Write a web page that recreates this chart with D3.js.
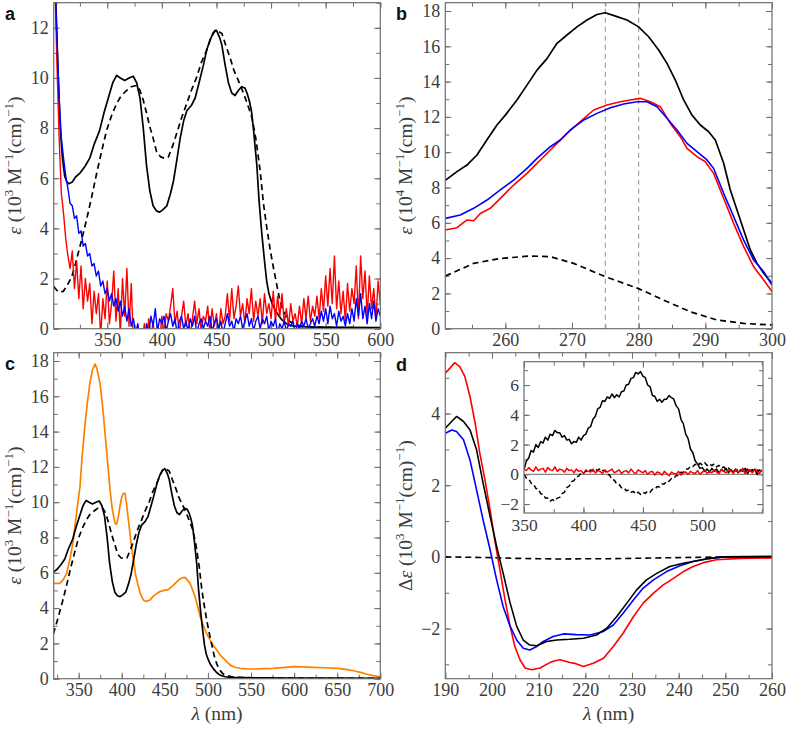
<!DOCTYPE html>
<html><head><meta charset="utf-8">
<script src="https://cdn.jsdelivr.net/npm/d3@7"></script>
<style>
body{margin:0;background:#fff}
svg text{font-family:"Liberation Serif","Times New Roman",serif}
svg text.lt{font-family:"Liberation Sans",Arial,sans-serif;font-weight:bold}
</style>
</head><body>
<script>
// ---------------- DATA ----------------
// Panel a & c : black solid (absorption), black dashed
const absSolid = [[301,14.5],[303,13.0],[305,10.2],[307,8.0],[309,6.8],[311,6.1],[313,5.85],[315,5.78],[318,5.85],[321,6.05],[325,6.2],[330,6.5],[334,6.8],[338,7.35],[343,7.9],[347,8.6],[351,9.2],[355,9.8],[358.6,10.1],[362,10.0],[366,9.9],[370,10.0],[373.8,10.07],[377,9.8],[380,9.2],[383,8.0],[386,6.5],[389,5.5],[392,4.9],[395,4.7],[398,4.65],[401,4.75],[404.6,4.9],[408,5.4],[410.7,5.9],[414,6.8],[416.8,7.6],[420,8.3],[423,8.7],[427,8.9],[430.5,9.2],[434,9.8],[438,10.5],[441,11.1],[444,11.5],[447,11.8],[450,11.9],[453,11.6],[455,11.3],[458,10.5],[461,9.8],[464,9.4],[467,9.3],[470,9.5],[473,9.65],[476,9.6],[478,9.4],[480,9.1],[482,8.7],[484,7.9],[487,6.5],[489,5.1],[491.5,3.8],[494,2.7],[496,1.9],[498,1.4],[500.6,1.05],[503,0.8],[506.7,0.54],[510,0.35],[514,0.2],[520,0.11],[526,0.08],[540,0.06],[560,0.05],[600,0.04],[650,0.03],[700,0.02]];
const absDashed = [[301,1.68],[304,1.52],[307,1.45],[310,1.5],[313,1.7],[317.5,2.07],[321,2.6],[325,3.27],[331,4.33],[336,5.3],[340.3,6.19],[345,7.1],[349.5,7.92],[354,8.5],[358.6,8.98],[363,9.3],[367.8,9.5],[372,9.65],[377,9.7],[380,9.5],[383,9.11],[386,8.6],[389,8.05],[392,7.6],[395.2,7.05],[399,6.85],[402.8,6.79],[406,6.85],[410,7.3],[413.7,7.8],[418,8.4],[423,9.0],[427,9.5],[432,10.04],[436,10.6],[441,11.1],[445,11.6],[448.8,11.9],[452,11.85],[455,11.77],[458.5,11.3],[462.5,10.8],[466,10.3],[470,9.9],[474.7,9.4],[478,9.0],[482.3,8.45],[486,7.6],[490,6.3],[493,5.0],[496,4.06],[499,3.2],[502,2.47],[505,1.8],[508,1.14],[511,0.75],[514,0.48],[517,0.3],[520,0.21],[526,0.12],[532.6,0.08],[550,0.05],[600,0.03],[650,0.02],[700,0.02]];
// Panel a : noisy red & blue, sampled every 2 nm from 302 nm
const aNoiseStart = 302, aNoiseStep = 2;
const aRed = [14,10.5,7.6,5.4,4.6,3.6,2.9,2.4,
 3.1,1.6,2.7,1.2,2.5,0.8,2.0,1.1,1.8,0.2,1.5,0.6,
 1.4,-0.3,1.2,0.4,1.9,0.2,1.0,2.3,0.3,1.6,-0.2,2.0,0.5,2.4,0.1,1.8,
 -0.6,-0.9,-0.3,-1.0,-0.5,0.2,-0.7,0.4,-0.4,0.3,-0.8,0.1,-0.5,0.5,-0.2,0.6,
 0.3,0.9,1.6,0.2,0.7,-0.2,0.5,1.1,0.1,0.6,-0.3,0.4,1.1,0.2,0.8,-0.1,0.5,0.3,
 0.9,-0.2,0.8,0.1,0.6,-0.3,0.8,0.2,0.5,1.4,0.3,1.6,0.4,0.9,1.7,
 0.5,1.0,0.2,1.2,0.6,1.6,0.3,1.1,0.5,1.2,0.2,1.4,0.6,1.0,0.4,
 1.5,0.3,1.3,0.5,1.4,0.2,0.8,0.1,1.0,0.3,0.6,0.1,0.9,0.2,1.2,0.4,1.3,0.3,0.9,0.5,
 1.3,0.4,1.6,0.7,2.1,0.9,2.4,1.0,2.9,0.8,1.9,0.6,1.5,0.3,1.8,0.7,1.6,1.0,2.5,0.4,2.9,1.2,2.3,0.5,2.1,0.8,1.6,0.4,1.9,1.0];
const aBlue = [14,11.5,9.2,7.6,6.8,6.1,5.6,5.0,4.9,4.4,4.5,3.8,3.9,3.3,3.4,2.9,3.0,2.5,2.6,2.1,
 2.3,1.7,1.9,1.4,1.6,1.1,1.4,0.9,1.2,0.7,1.1,0.5,0.9,0.3,0.8,0.1,0.4,-0.2,0.2,-0.5,
 -0.3,-0.6,0.2,-0.2,0.5,0.1,0.8,-0.1,0.4,0.2,0.5,-0.1,0.3,0.6,0.1,0.4,-0.2,0.3,0.5,0.0,
 0.3,-0.1,0.4,0.1,0.5,-0.2,0.2,0.4,0.0,0.3,0.1,0.5,-0.1,0.2,0.4,0.0,0.3,-0.2,0.2,0.6,
 0.1,0.3,-0.1,0.4,0.2,0.5,0.0,0.3,0.6,0.1,0.4,-0.1,0.3,0.5,0.0,0.4,0.2,0.5,-0.1,0.3,
 0.1,0.4,-0.2,0.2,0.0,0.3,-0.1,0.2,0.1,0.3,-0.2,0.2,0.0,0.3,0.1,0.4,0.0,0.2,0.4,0.1,
 0.5,0.2,0.7,0.3,0.8,0.2,0.9,0.4,0.6,0.1,0.7,0.3,0.5,0.1,0.6,0.2,0.8,0.3,1.2,0.5,
 1.4,0.4,0.9,0.2,1.0,0.4,1.1,0.3,0.8,0.5];
// Panel b
const bBlack = [[251,8.4],[252.75,8.9],[254.25,9.27],[255.75,9.84],[257.25,10.7],[258.75,11.54],[260,12.1],[261.75,12.96],[263.25,13.8],[264.75,14.65],[266.25,15.3],[267.75,16.17],[269.25,16.64],[270.75,17.1],[272.25,17.49],[273.75,17.8],[275,17.9],[276.75,17.68],[278.25,17.49],[280,17.1],[281.5,16.54],[283,15.79],[284.25,15.03],[285.5,14.09],[286.75,12.96],[288,12.1],[289.25,11.54],[290.5,11.16],[291.5,10.69],[292.75,9.37],[293.75,7.86],[294.75,6.72],[295.75,5.59],[296.75,4.46],[297.75,3.7],[298.75,3.14],[300,2.57]];
const bBlue = [[251,6.25],[253.25,6.44],[255.25,6.82],[257.25,7.29],[259.25,7.86],[261.25,8.42],[263.25,9.08],[264.75,9.65],[266.75,10.31],[268.25,10.69],[269.75,11.26],[271.75,11.82],[273.75,12.2],[275.75,12.52],[277.75,12.73],[279.75,12.86],[281.25,12.86],[282.75,12.58],[284.25,11.92],[285.75,11.26],[287.25,10.5],[288.75,10.03],[290.25,9.56],[291.25,9.08],[292.75,7.67],[294.25,6.35],[295.75,5.02],[297.25,3.89],[298.75,3.23],[300,2.47]];
const bRed = [[251,5.59],[252.75,5.72],[254.25,6.16],[255.25,6.12],[256.25,6.53],[257.75,6.82],[259.75,7.57],[261.25,8.14],[263.25,8.8],[265.25,9.56],[267.25,10.31],[269.25,11.07],[271.25,11.73],[273.25,12.39],[275.25,12.67],[277.25,12.86],[278.75,12.96],[280.25,13.05],[281.75,12.86],[283.25,12.58],[284.75,11.63],[286.25,10.88],[287.25,10.22],[288.75,9.75],[290,9.46],[291.25,8.8],[292.75,7.38],[294.25,5.97],[295.75,4.65],[297.25,3.51],[298.75,2.76],[300,2.1]];
const bDashed = [[251,2.98],[255.25,3.7],[259.25,3.98],[263.75,4.12],[266.75,4.08],[270.25,3.7],[275,2.95],[280,2.27],[283.75,1.62],[287.75,0.96],[291.75,0.49],[295.75,0.3],[300,0.21]];
const bMarkers = [275, 280];
// Panel c : orange
const cOrange = [[321,5.4],[328,5.4],[332,5.6],[336,5.97],[340,6.8],[343.8,7.86],[347,9.2],[351.5,10.88],[354,12.6],[357.4,14.47],[360,15.6],[363,16.73],[366,17.5],[369,17.83],[371,17.6],[374.8,16.73],[378,15.3],[380.6,13.9],[383.5,12.3],[386.4,10.69],[389,9.6],[392.2,8.8],[394,8.75],[396,9.18],[398,9.8],[400,10.31],[402,10.5],[403.8,10.5],[405.5,9.9],[407.7,8.99],[410.5,7.8],[413.5,6.72],[416,5.9],[419.3,5.21],[422,4.75],[425,4.46],[428,4.38],[432.8,4.46],[436,4.65],[440.6,4.83],[445,4.95],[450.3,5.02],[454,5.05],[458,5.21],[462,5.4],[465.8,5.59],[470,5.72],[473.5,5.74],[476,5.6],[479.3,5.4],[482,5.05],[485,4.65],[488,4.1],[491,3.51],[494,3.1],[496.7,2.76],[499.5,2.45],[502.5,2.19],[506,1.9],[510.3,1.62],[514,1.35],[518,1.15],[522,0.95],[525.8,0.77],[531,0.65],[537.4,0.59],[545,0.56],[553,0.55],[565,0.57],[576,0.59],[590,0.64],[599.3,0.68],[610,0.67],[622.5,0.64],[635,0.62],[649.7,0.59],[660,0.53],[669,0.45],[677,0.36],[684.5,0.25],[692,0.17],[700,0.11]];
// Panel d : CD
const dRed = [[190,5.13],[191,5.27],[192,5.42],[193.1,5.31],[194.2,5.03],[195.3,4.47],[196.4,3.73],[197.4,2.89],[198.5,2.15],[199.6,1.31],[200.6,0.47],[201.7,-0.36],[202.8,-1.2],[203.9,-1.94],[204.9,-2.5],[206,-2.87],[207.1,-3.1],[208.5,-3.15],[210.3,-3.1],[212.4,-2.95],[213.5,-2.9],[214.6,-2.87],[216.7,-2.95],[218,-2.98],[219.6,-3.06],[221.7,-2.97],[223.9,-2.83],[226,-2.5],[228.1,-2.13],[230.3,-1.67],[232.4,-1.29],[234.6,-1.01],[236.7,-0.78],[238.9,-0.6],[241,-0.41],[243.1,-0.27],[245.3,-0.16],[248.1,-0.08],[253.1,-0.04],[260,-0.03]];
const dBlack = [[190,3.59],[191,3.73],[192.4,3.92],[193.9,3.78],[195.3,3.54],[196.7,2.99],[198.1,2.06],[199.6,1.13],[201,0.29],[202.4,-0.46],[203.9,-1.29],[205.3,-1.94],[206.7,-2.32],[208.1,-2.46],[209.6,-2.48],[211.7,-2.36],[213.9,-2.32],[216.7,-2.3],[219.6,-2.27],[222.4,-2.18],[224.6,-1.99],[226.7,-1.67],[228.9,-1.29],[231,-0.92],[233.1,-0.64],[235.3,-0.46],[238.1,-0.27],[241,-0.18],[243.9,-0.11],[246.7,-0.04],[249.6,0],[260,0.01]];
const dBlue = [[190,3.45],[191.4,3.54],[192.4,3.5],[193.9,3.27],[195.3,2.7],[196.7,1.87],[198.1,1.03],[199.6,0.2],[201,-0.64],[202.4,-1.39],[203.9,-1.94],[205.3,-2.32],[206.7,-2.55],[208.1,-2.6],[209.6,-2.5],[211,-2.36],[213.1,-2.22],[215.3,-2.15],[218.1,-2.17],[221,-2.18],[223.9,-2.08],[226,-1.9],[228.1,-1.57],[230.3,-1.2],[232.4,-0.87],[234.6,-0.64],[237.4,-0.41],[240.3,-0.25],[243.1,-0.13],[245.9,-0.06],[249.6,0],[260,0.01]];
const dDashed = [[190,0],[195,-0.01],[200,-0.02],[205,-0.04],[210,-0.05],[215,-0.06],[220,-0.05],[225,-0.05],[230,-0.04],[235,-0.03],[240,-0.02],[245,-0.01],[250,0],[260,0]];
// Panel d inset: sampled every 2 nm from 350 nm
const insStart = 350, insStep = 2;
const insSolid = [0.3,0.9,1.1,1.6,1.5,2.0,1.8,2.2,2.1,2.5,2.3,2.7,2.6,2.95,2.8,2.8,2.5,2.6,2.3,2.35,
 2.05,2.2,2.15,2.5,2.3,2.6,2.7,3.1,3.2,3.7,3.9,4.4,4.5,4.95,4.9,5.2,5.1,5.4,5.15,5.35,
 5.2,5.55,5.6,6.0,6.05,6.45,6.5,6.85,6.75,6.9,6.6,6.5,6.0,5.9,5.3,5.25,4.9,5.05,4.85,5.05,
 5.05,5.3,5.15,5.05,4.6,4.4,3.7,3.4,2.7,2.4,1.7,1.45,0.9,0.7,0.4,0.45,0.2,0.35,0.15,0.4,
 0.2,0.35,0.1,0.3,0.2,0.4,0.1,0.3,0.15,0.35,0.1,0.3,0.2,0.4,0.05,0.3,0.15,0.35,0.0,0.3,0.2];
const insDashed = [0.0,-0.25,-0.3,-0.6,-0.65,-0.95,-1.0,-1.3,-1.35,-1.6,-1.6,-1.8,-1.7,-1.8,-1.6,-1.55,-1.3,-1.2,-0.9,-0.8,
 -0.5,-0.42,-0.18,-0.12,0.1,0.05,0.22,0.15,0.3,0.22,0.35,0.25,0.4,0.25,0.25,0.0,-0.05,-0.35,-0.4,-0.65,
 -0.68,-0.9,-0.9,-1.1,-1.05,-1.2,-1.15,-1.32,-1.2,-1.35,-1.2,-1.28,-1.12,-1.2,-1.0,-1.0,-0.82,-0.85,-0.65,-0.65,
 -0.45,-0.47,-0.28,-0.27,-0.08,-0.08,0.14,0.12,0.35,0.35,0.55,0.52,0.68,0.58,0.75,0.62,0.78,0.6,0.72,0.58,
 0.7,0.5,0.6,0.42,0.5,0.32,0.42,0.25,0.38,0.22,0.35,0.2,0.38,0.18,0.35,0.15,0.32,0.1,0.3,0.15,0.25];
const insRed = [0.35,0.25,0.45,0.3,0.2,0.5,0.25,0.35,0.4,0.15,0.45,0.3,0.25,0.5,0.2,0.35,0.3,0.15,0.4,0.25,
 0.3,0.1,0.35,0.2,0.25,0.05,0.3,0.2,0.15,0.35,0.1,0.25,0.2,0.05,0.3,0.15,0.25,0.35,0.1,0.2,
 0.3,0.05,0.2,0.25,0.1,0.35,0.15,0.05,0.3,0.2,0.1,0.25,0.0,0.15,0.2,-0.05,0.15,0.1,-0.05,0.2,
 0.05,-0.1,0.15,0.05,0.0,0.2,-0.05,0.1,0.15,0.0,0.2,0.1,0.05,0.25,0.0,0.15,0.3,0.05,0.2,0.1,
 0.3,0.15,0.05,0.35,0.2,0.1,0.3,0.25,0.05,0.35,0.15,0.2,0.4,0.05,0.25,0.3,0.1,0.35,0.2,0.05,0.3];

// Tick values
const aXTicks=[350,400,450,500,550,600], aYTicks=[0,2,4,6,8,10,12];
const bXTicks=[260,270,280,290,300], bYTicks=[0,2,4,6,8,10,12,14,16,18];
const cXTicks=[350,400,450,500,550,600,650,700], cYTicks=[0,2,4,6,8,10,12,14,16,18];
const dXTicks=[190,200,210,220,230,240,250,260], dYTicks=[-2,0,2,4];
const iXTicks=[350,400,450,500], iYTicks=[-2,0,2,4,6];

// ---------------- DRAW ----------------
const W=787,H=730;
const svg=d3.select("body").append("svg").attr("width",W).attr("height",H);
const defs=svg.append("defs");
const FRAME="#6e6e6e", TXT="#3c3c3c";
const RED="#ff0000", BLUE="#0000ff", ORANGE="#ff8000", BLACK="#000";

function range(a,b,s){const r=[];for(let v=a;v<=b+1e-9;v+=s)r.push(+v.toFixed(6));return r;}

function panel(c){
  const x=d3.scaleLinear().domain(c.xdom).range([c.l,c.r]);
  const y=d3.scaleLinear().domain(c.ydom).range([c.b,c.t]);
  const g=svg.append("g");
  if(c.bg) g.append("rect").attr("x",c.l).attr("y",c.t).attr("width",c.r-c.l).attr("height",c.b-c.t).attr("fill","#fff");
  defs.append("clipPath").attr("id","clip-"+c.name).append("rect")
    .attr("x",c.l).attr("y",c.t).attr("width",c.r-c.l).attr("height",c.b-c.t);
  const fs=c.fs||18;
  const inX=v=>v>=c.xdom[0]-1e-9&&v<=c.xdom[1]+1e-9, inY=v=>v>=c.ydom[0]-1e-9&&v<=c.ydom[1]+1e-9;
  const xMin=range(c.xMinor[0],c.xMinor[1],c.xMinor[2]).filter(inX);
  const yMin=range(c.yMinor[0],c.yMinor[1],c.yMinor[2]).filter(inY);
  const styleAx=sel=>{sel.select(".domain").remove();sel.selectAll(".tick line").attr("stroke",FRAME);
    sel.attr("font-size",fs);
    sel.selectAll("text").attr("fill",TXT).attr("font-size",fs);};
  [[d3.axisBottom(x),c.b],[d3.axisTop(x),c.t]].forEach(([ax,pos])=>{
    g.append("g").attr("transform",`translate(0,${pos})`).call(ax.tickValues(xMin).tickSize(-4).tickFormat("")).call(styleAx);
    g.append("g").attr("transform",`translate(0,${pos})`).call(ax.tickValues(c.xTicks).tickSize(-6).tickFormat("")).call(styleAx);
  });
  [[d3.axisLeft(y),c.l],[d3.axisRight(y),c.r]].forEach(([ax,pos])=>{
    g.append("g").attr("transform",`translate(${pos},0)`).call(ax.tickValues(yMin).tickSize(-4).tickFormat("")).call(styleAx);
    g.append("g").attr("transform",`translate(${pos},0)`).call(ax.tickValues(c.yTicks).tickSize(-6).tickFormat("")).call(styleAx);
  });
  g.append("g").attr("transform",`translate(0,${c.b})`)
    .call(d3.axisBottom(x).tickValues(c.xTicks).tickSize(0).tickPadding(c.xpad||5).tickFormat(d3.format("d"))).call(styleAx);
  g.append("g").attr("transform",`translate(${c.l},0)`)
    .call(d3.axisLeft(y).tickValues(c.yTicks).tickSize(0).tickPadding(5).tickFormat(d3.format("d"))).call(styleAx);
  const plot=g.append("g").attr("clip-path",`url(#clip-${c.name})`);
  g.append("rect").attr("x",c.l).attr("y",c.t).attr("width",c.r-c.l).attr("height",c.b-c.t)
    .attr("fill","none").attr("stroke",FRAME).attr("stroke-width",1.2);
  return {x,y,g,plot};
}
function drawPairs(p,data,color,opt={}){
  const line=d3.line().x(d=>p.x(d[0])).y(d=>p.y(d[1]));
  p.plot.append("path").datum(data).attr("d",line).attr("fill","none")
    .attr("stroke",color).attr("stroke-width",opt.w||1.6).attr("stroke-dasharray",opt.dash||null)
    .attr("stroke-linejoin","round");
}
function drawSeq(p,vals,start,step,color,opt){
  drawPairs(p,vals.map((v,i)=>[start+i*step,v]),color,opt);
}
function yTitle(xPos,yc,prefix,exp){
  const t=svg.append("text").attr("transform",`translate(${xPos},${yc}) rotate(-90)`)
    .attr("text-anchor","middle").attr("fill",TXT).attr("font-size",19.5);
  if(prefix) t.append("tspan").text(prefix);
  t.append("tspan").attr("font-style","italic").text("ε");
  t.append("tspan").text(" (10");
  t.append("tspan").attr("dy",-8).attr("font-size",13).text(exp);
  t.append("tspan").attr("dy",8).text(" M");
  t.append("tspan").attr("dy",-8).attr("font-size",13).text("−1");
  t.append("tspan").attr("dy",8).text("(cm)");
  t.append("tspan").attr("dy",-8).attr("font-size",13).text("−1");
  t.append("tspan").attr("dy",8).text(")");
}
function xTitle(xc,yb){
  const t=svg.append("text").attr("x",xc).attr("y",yb).attr("text-anchor","middle").attr("fill",TXT)
    .attr("font-size",19.5);
  t.append("tspan").attr("font-style","italic").text("λ");
  t.append("tspan").text(" (nm)");
}
function letter(s,x,y){
  svg.append("text").attr("class","lt").attr("x",x).attr("y",y).text(s)
    .attr("font-size",18).attr("fill","#111");
}

// Panel a
const pa=panel({name:"a",l:53.7,r:380.3,t:2.7,b:328.7,xdom:[301,600],ydom:[0,13],
  xTicks:aXTicks,yTicks:aYTicks,xMinor:[300,600,25],yMinor:[0,13,1]});
drawPairs(pa,absSolid,BLACK,{w:1.7});
drawPairs(pa,absDashed,BLACK,{w:1.7,dash:"6,4"});
drawSeq(pa,aRed,aNoiseStart,aNoiseStep,RED,{w:1.4});
drawSeq(pa,aBlue,aNoiseStart,aNoiseStep,BLUE,{w:1.4});

// Panel b
const pb=panel({name:"b",l:445.3,r:772,t:2.7,b:328.7,xdom:[251,300],ydom:[0,18.47],
  xTicks:bXTicks,yTicks:bYTicks,xMinor:[255,300,5],yMinor:[0,18,1]});
bMarkers.forEach(m=>pb.plot.append("line").attr("x1",pb.x(m)).attr("x2",pb.x(m)).attr("y1",pb.y(0)).attr("y2",pb.y(18.47))
  .attr("stroke","#999").attr("stroke-width",1.1).attr("stroke-dasharray","5,4"));
drawPairs(pb,bBlack,BLACK,{w:1.7});
drawPairs(pb,bDashed,BLACK,{w:1.7,dash:"6,4"});
drawPairs(pb,bRed,RED,{w:1.6});
drawPairs(pb,bBlue,BLUE,{w:1.6});

// Panel c
const pc=panel({name:"c",l:53.7,r:380.3,t:352.7,b:678.7,xdom:[321,700],ydom:[0,18.47],
  xTicks:cXTicks,yTicks:cYTicks,xMinor:[325,700,25],yMinor:[0,18,1]});
drawPairs(pc,cOrange,ORANGE,{w:1.7});
drawPairs(pc,absDashed,BLACK,{w:1.7,dash:"6,4"});
drawPairs(pc,absSolid,BLACK,{w:1.7});

// Panel d
const pd=panel({name:"d",l:445.3,r:772,t:352.7,b:678.7,xdom:[190,260],ydom:[-3.4,5.7],
  xTicks:dXTicks,yTicks:dYTicks,xMinor:[190,260,5],yMinor:[-3,5,1]});
drawPairs(pd,dDashed,BLACK,{w:1.6,dash:"6,4"});
drawPairs(pd,dRed,RED,{w:1.6});
drawPairs(pd,dBlue,BLUE,{w:1.6});
drawPairs(pd,dBlack,BLACK,{w:1.6});

// Inset
const pi=panel({name:"i",l:524,r:763,t:361.7,b:513,xdom:[350,551],ydom:[-2.6,7.57],bg:true,fs:17.5,xpad:6,
  xTicks:iXTicks,yTicks:iYTicks,xMinor:[350,550,25],yMinor:[-2,7,1]});
pi.plot.append("line").attr("x1",pi.x(350)).attr("x2",pi.x(551)).attr("y1",pi.y(0)).attr("y2",pi.y(0))
  .attr("stroke","#888").attr("stroke-width",1.3);
drawSeq(pi,insDashed,insStart,insStep,BLACK,{w:1.5,dash:"5,3"});
drawSeq(pi,insSolid,insStart,insStep,BLACK,{w:1.5});
drawSeq(pi,insRed,insStart,insStep,RED,{w:1.5});

// Titles
yTitle(21,165.7,"","3");
yTitle(412,165.7,"","4");
yTitle(21,515.7,"","3");
yTitle(412,515.7,"Δ","3");
xTitle(217,720);
xTitle(608.6,720);
letter("a",5,20);
letter("b",396,20);
letter("c",5,370);
letter("d",396,371);
</script>
</body></html>
